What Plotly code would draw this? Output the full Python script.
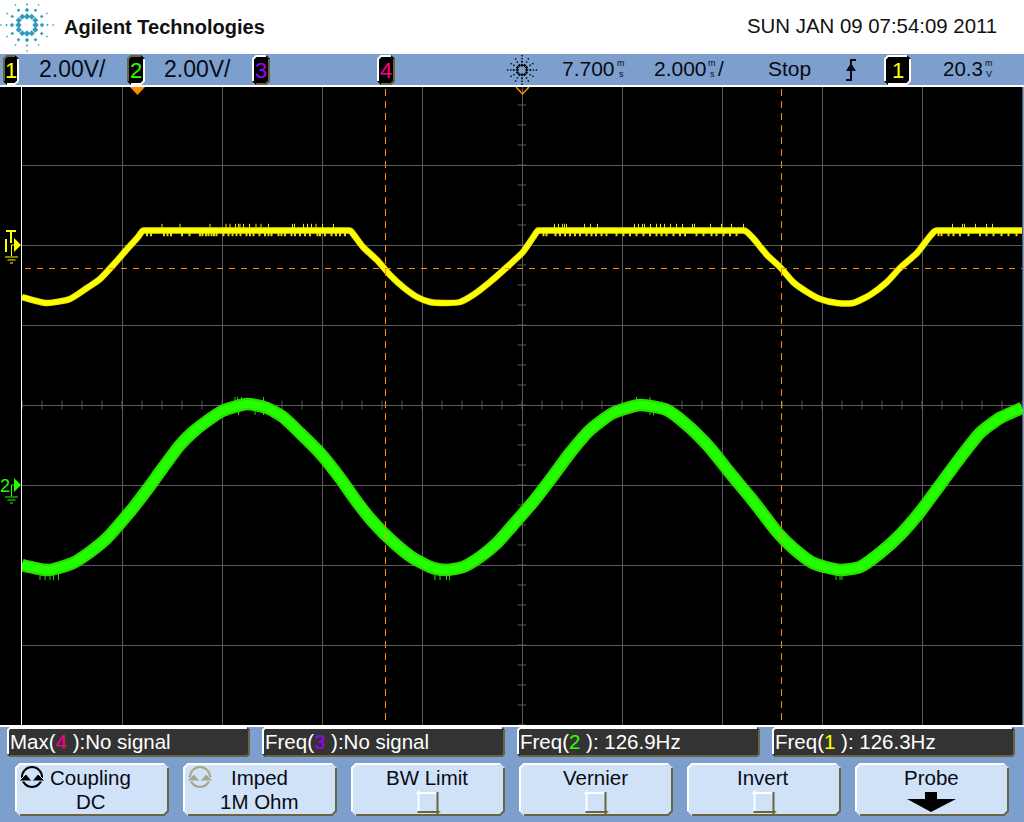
import math
import plotly.graph_objects as go

W, H = 1024, 822

# ---- Acquisition settings (from the status line)
ch1_offset_v = 4.0      # channel 1 ground sits 2 div above centre
ch2_offset_v = -2.0     # channel 2 ground sits 1 div below centre
t_center_ms = 7.7
t_per_div_ms = 2.0
v_per_div = 2.0
trigger_display_v = 3.4125
cursor_ms = [4.97, 12.89]

# ---- Channel 1 (yellow)
ch1_t = [-2.30, -1.80, -1.34, -1.00, -0.74, -0.44, -0.18, 0.02, 0.10, 0.14, 0.30, 4.10, 4.24, 4.28, 4.52, 4.80, 5.06,
         5.32, 5.60, 5.86, 6.16, 6.46, 6.72, 7.06, 7.40, 7.72, 7.98, 8.02, 8.06, 8.20, 12.00, 12.14, 12.18, 12.32, 12.60,
         12.86, 13.12, 13.40, 13.66, 14.00, 14.32, 14.66, 15.00, 15.26, 15.60, 15.80, 15.94, 15.98, 16.10, 17.70]
ch1_v = [-1.30, -1.45, -1.35, -1.075, -0.85, -0.45, -0.075, 0.20, 0.34, 0.3625, 0.3625, 0.3625, 0.3625, 0.34, -0.05, -0.375, -0.75,
         -1.05, -1.30, -1.425, -1.45, -1.425, -1.25, -0.925, -0.55, -0.175, 0.30, 0.3625, 0.3625, 0.3625, 0.3625, 0.3625, 0.34, 0.175, -0.25,
         -0.55, -0.925, -1.175, -1.35, -1.45, -1.45, -1.25, -0.925, -0.575, -0.20, 0.125, 0.33, 0.3625, 0.3625, 0.3625]
ch1_spike_up_t = [0.50, 0.86, 1.46, 1.78, 1.86, 1.97, 2.03, 2.06, 2.13, 2.25, 2.38, 2.48, 2.63, 3.11, 3.15,
                  3.33, 3.41, 3.49, 3.58, 3.71, 3.93, 8.35, 8.43, 8.51, 8.55, 8.59, 8.95, 9.07, 9.21,
                  9.95, 10.03, 10.11, 10.15, 10.27, 10.39, 10.47, 10.55, 10.67, 10.79, 10.91, 11.11,
                  11.15, 11.47, 11.69, 11.89, 12.13, 16.31, 16.51, 16.55, 16.77, 16.99, 17.11]
ch1_spike_down_t = [0.20, 0.28, 0.54, 0.61, 0.68, 0.90, 1.05, 1.26, 1.31, 1.38, 1.43, 1.49, 1.54, 1.59, 1.73,
                    1.83, 1.91, 1.99, 2.07, 2.19, 2.26, 2.33, 2.45, 2.56, 2.63, 2.69, 2.83, 2.89, 2.96,
                    3.09, 3.16, 3.26, 3.36, 3.46, 3.61, 3.66, 3.76, 3.89, 3.98, 4.06, 4.16, 8.13, 8.19,
                    8.37, 8.46, 8.56, 8.66, 8.76, 8.86, 8.99, 9.09, 9.18, 9.29, 9.39, 9.59, 9.73, 9.86,
                    9.99, 10.13, 10.26, 10.39, 10.49, 10.59, 10.73, 10.86, 10.96, 11.19, 11.33, 11.49,
                    11.59, 11.73, 11.86, 11.99, 16.03, 16.09, 16.23, 16.33, 16.46, 16.63, 16.86, 16.99,
                    17.13, 17.29, 17.43, 17.59]
ch1_spike_top_v = 0.53
ch1_spike_bottom_v = 0.22

# ---- Channel 2 (green)
ch2_t = [-2.30, -1.78, -1.28, -0.94, -0.60, -0.28, 0.00, 0.26, 0.46, 0.86, 1.12, 1.40, 1.72, 2.20, 2.60,
         2.92, 3.26, 3.66, 4.06, 4.40, 4.72, 5.12, 5.52, 5.92, 6.20, 6.52, 6.86, 7.20, 7.52, 7.92, 8.26,
         8.66, 9.06, 9.52, 10.06, 10.60, 11.00, 11.46, 11.86, 12.26, 12.46, 12.80, 13.12, 13.52, 14.06,
         14.46, 14.86, 15.26, 15.66, 16.06, 16.46, 16.86, 17.26, 17.70]
ch2_v = [-2.00, -2.125, -1.95, -1.675, -1.325, -0.875, -0.45, -0.02, 0.33, 1.00, 1.325, 1.60, 1.86, 2.025,
         1.925, 1.70, 1.30, 0.80, 0.175, -0.425, -0.925, -1.425, -1.825, -2.075, -2.125, -2.05, -1.80,
         -1.45, -1.00, -0.425, 0.125, 0.80, 1.375, 1.80, 2.00, 1.875, 1.50, 0.925, 0.30, -0.30, -0.62,
         -1.175, -1.575, -1.95, -2.125, -2.05, -1.70, -1.25, -0.675, 0.00, 0.675, 1.30, 1.675, 1.925]
ch2_peak_spike_t = [1.96, 2.01, 2.09, 2.53, 9.99, 10.26]
ch2_peak_under_t = [2.03, 2.36, 2.53, 10.26, 10.33]
ch2_trough_spike_t = [-1.94, -1.84, -1.74, -1.67, -1.57, 5.96, 6.06, 6.19, 6.25, 13.98, 14.06, 14.10]

# ---- Screen texts
volts_label = "2.00V/"
delay_label = "7.700"
timebase_label = "2.000"
mode_label = "Stop"
trigger_level_label = "20.3"
clock_label = "SUN JAN 09 07:54:09 2011"
brand_label = "Agilent Technologies"
channel_names = ["1", "2", "3", "4"]
softkey_labels = [("Coupling", "DC"), ("Imped", "1M Ohm"), ("BW Limit", None),
                  ("Vernier", None), ("Invert", None), ("Probe", None)]

# ---- Palette
BLUE = "#7c9fcd"
KEY = "#cfe2f8"
OLIVE = "#6b6440"
GRID = "#5a5a5a"
YEL = "#ffff00"
GRN = "#24ff00"
ORG = "#ff8c00"
MAG = "#ff0080"
PUR = "#a000ff"
INK = "#0a0a14"
FONT = "Liberation Sans"

px = lambda x: x / W
py = lambda y: 1 - y / H
shapes, notes = [], []


def rect(x0, y0, x1, y1, fill, layer="below"):
    shapes.append(dict(type="rect", xref="paper", yref="paper", x0=px(x0), x1=px(x1), y0=py(y0), y1=py(y1),
                       fillcolor=fill, line=dict(width=0), layer=layer))


def poly(pts, color=None, width=1, fill=None, close=False, layer="above"):
    d = "M" + " L".join(f"{px(a):.5f},{py(b):.5f}" for a, b in pts) + (" Z" if close else "")
    shapes.append(dict(type="path", xref="paper", yref="paper", path=d, fillcolor=fill,
                       line=dict(width=width if color else 0, color=color or "rgba(0,0,0,0)"), layer=layer))


def text(x, y, s, size=22, color=INK, anchor="center"):
    notes.append(dict(xref="paper", yref="paper", x=px(x), y=py(y), text=s, showarrow=False,
                      xanchor=anchor, yanchor="middle", borderpad=0, borderwidth=0,
                      font=dict(size=size, color=color, family=FONT)))


def bevel(x0, y0, x1, y1, fill, tl="#ffffff", br=OLIVE, c=3, w=2):
    poly([(x0 + c, y0), (x1 - c, y0), (x1, y0 + c), (x1, y1 - c), (x1 - c, y1), (x0 + c, y1), (x0, y1 - c), (x0, y0 + c)],
         fill=fill, close=True)
    poly([(x0 + 1, y1 - c), (x0 + 1, y0 + c), (x0 + c, y0 + 1), (x1 - c, y0 + 1)], color=tl, width=w)
    poly([(x1 - 1, y0 + c), (x1 - 1, y1 - c), (x1 - c, y1 - 1), (x0 + c, y1 - 1)], color=br, width=w)


def spark(cx, cy, k, color):
    for i in range(12):
        a = math.radians(i * 30)
        rings = ((8.5, 3.2), (15, 2.2), (20.5, 1.2), (26, 1.0)) if i % 3 == 0 else ((9.5, 3.0), (17, 1.8), (23, 1.0))
        for r, s in rings:
            x, y = cx + k * r * math.cos(a), cy + k * r * math.sin(a)
            q = max(k * s, 1.0)
            poly([(x, y - q), (x + q, y), (x, y + q), (x - q, y)], fill=color, close=True)


def stacked(x, y, top, bottom):
    text(x, y - 6, top, 9, INK)
    text(x, y + 5, bottom, 9, INK)


# ---- Chrome
rect(0, 54, W, 85, BLUE)
rect(0, 725, W, H, BLUE)
rect(0, 85, 22, 725, "#000000")
rect(21, 86, 22, 725, "#ffffff", layer="above")
rect(0, 85, W, 87, "#ffffff", layer="above")
rect(0, 725, W, 727, "#ffffff", layer="above")
rect(1023, 87, W, 725, BLUE, layer="above")

spark(27, 25, 1.0, "#2d9cbc")
text(64, 27, f"<b>{brand_label}</b>", 20, "#111111", "left")
text(997, 26, clock_label, 20.4, "#111111", "right")

# status-line badges
for (x0, x1), name, col, tl, br in [((3, 19), "1", YEL, OLIVE, "#ffffff"), ((127, 145), "2", "#30ff00", OLIVE, "#ffffff"),
                                    ((252, 270), "3", PUR, "#ffffff", OLIVE), ((377, 395), "4", MAG, "#ffffff", OLIVE)]:
    bevel(x0, 55, x1, 85, "#000000", tl, br, c=4, w=2)
    text((x0 + x1) / 2, 70, name, 22, col)
bevel(884, 55, 911, 85, "#000000", "#ffffff", "#ffffff", c=4, w=2)
text(897.5, 70, "1", 22, YEL)

text(39, 69, volts_label, 23, INK, "left")
text(164, 69, volts_label, 23, INK, "left")
spark(522, 70, 0.55, "#000000")
text(562, 69, delay_label, 21, INK, "left")
stacked(621, 69, "m", "s")
text(654, 69, timebase_label, 21, INK, "left")
stacked(712, 69, "m", "s")
text(718, 69, "/", 21, INK, "left")
text(768, 69, mode_label, 21, INK, "left")
poly([(846, 80), (851, 80), (851, 60), (856, 60)], color=INK, width=2)
poly([(851, 63), (856, 71), (846, 71)], fill=INK, close=True)
text(943, 69, trigger_level_label, 20.5, INK, "left")
stacked(989, 69, "m", "V")

# measurement boxes
for x0, x1, pre, num, col, post in [(7, 250, "Max(", "4", MAG, " ):No signal"), (262, 505, "Freq(", "3", PUR, " ):No signal"),
                                    (517, 760, "Freq(", "2", "#30ff00", " ): 126.9Hz"), (772, 1015, "Freq(", "1", YEL, " ): 126.3Hz")]:
    bevel(x0, 727, x1, 757, "#333333", "#ffffff", OLIVE, c=3, w=2)
    text(x0 + 3, 741, f'{pre}<span style="color:{col}">{num}</span>{post}', 20.5, "#ffffff", "left")

# soft keys
keys = [(15, 169), (183, 337), (351, 505), (519, 673), (687, 841), (855, 1009)]
for (x0, x1), (a, b) in zip(keys, softkey_labels):
    bevel(x0, 763, x1, 816, KEY, "#ffffff", OLIVE, c=5, w=2)
    cx = (x0 + x1) / 2
    if a == "Coupling":
        text(90, 777, a, 20.5, INK)
    else:
        text(cx - 1, 777, a, 20.5, INK)
    if b:
        text(cx - 1 if a != "Coupling" else 91, 801, b, 20.5, INK)
    elif a != "Probe":
        bevel(cx - 10.5, 792, cx + 10.5, 813, KEY, "#ffffff", OLIVE, c=0, w=2)

# rotary icons
for cx, col in [(32, "#000000"), (200, "#a9a78a")]:
    shapes.append(dict(type="circle", xref="paper", yref="paper", x0=px(cx - 10), x1=px(cx + 10), y0=py(767), y1=py(787),
                       line=dict(color=col, width=2), layer="above"))
    poly([(cx - 13, 781), (cx - 6, 774), (cx, 781)], fill=col, color=KEY, width=1, close=True)
    poly([(cx, 781), (cx + 6, 774), (cx + 13, 781)], fill=col, color=KEY, width=1, close=True)
# probe arrow
poly([(925, 792), (937, 792), (937, 799), (956, 799), (931, 812), (907, 799), (925, 799)], fill="#000000", close=True)

# top markers
poly([(130, 87), (145, 87), (137.5, 95)], fill=ORG, close=True)
poly([(516, 87), (522.5, 94), (529, 87)], color=ORG, width=1.5)

# channel ground markers
for (gy, col) in [(245, YEL), (485, GRN)]:
    poly([(14, gy - 7), (21, gy), (14, gy + 7)], fill=col, close=True)
    poly([(14, gy), (11.5, gy), (11.5, gy + 11)], color=col, width=1)
    for dy, half in ((12, 6.5), (15, 4), (18, 1.5)):
        poly([(11.5 - half, gy + dy), (11.5 + half, gy + dy)], color=col, width=1)
rect(5, 239, 7, 252, YEL, layer="above")
rect(6, 230, 16, 232, YEL, layer="above")
rect(10, 230, 12, 243, YEL, layer="above")
text(5, 486, "2", 18, GRN)

# ---- Traces
fig = go.Figure()
ax = dict(xaxis="x", yaxis="y", hoverinfo="skip", showlegend=False)


def shift(vals, off):
    return [v + off for v in vals]


def stems(ts, lo, hi):
    xs, ys = [], []
    for t in ts:
        xs += [t, t, None]
        ys += [lo, hi, None]
    return xs, ys


# centre-line graticule ticks
fig.add_trace(go.Scatter(x=[t_center_ms + 0.4 * k for k in range(-25, 26)], y=[0] * 51, mode="markers",
                         marker=dict(symbol="line-ns", size=6, line=dict(color=GRID, width=1)), **ax))
fig.add_trace(go.Scatter(x=[t_center_ms] * 33, y=[0.5 * k for k in range(-16, 17)], mode="markers",
                         marker=dict(symbol="line-ew", size=6, line=dict(color=GRID, width=1)), **ax))

# channel 1
x, y = stems(ch1_spike_up_t, ch1_offset_v + 0.3, ch1_offset_v + ch1_spike_top_v)
fig.add_trace(go.Scatter(x=x, y=y, mode="lines", line=dict(color="#e8e800", width=1), **ax))
x, y = stems(ch1_spike_down_t, ch1_offset_v + ch1_spike_bottom_v, ch1_offset_v + 0.3)
fig.add_trace(go.Scatter(x=x, y=y, mode="lines", line=dict(color="#e0e000", width=2), **ax))
spl = dict(shape="spline", smoothing=0.6)
fig.add_trace(go.Scatter(x=ch1_t, y=shift(ch1_v, ch1_offset_v), mode="lines",
                         line=dict(color="#e6e600", width=6.5, **spl), **ax))
fig.add_trace(go.Scatter(x=ch1_t, y=shift(ch1_v, ch1_offset_v), mode="lines",
                         line=dict(color=YEL, width=4.5, **spl), **ax))

# channel 2
for ts, lo, hi in ((ch2_peak_spike_t, 2.0, 2.2), (ch2_peak_under_t, 1.75, 2.0), (ch2_trough_spike_t, -2.375, -2.1)):
    x, y = stems(ts, ch2_offset_v + lo, ch2_offset_v + hi)
    fig.add_trace(go.Scatter(x=x, y=y, mode="lines", line=dict(color="#20d800", width=1), **ax))
fig.add_trace(go.Scatter(x=ch2_t, y=shift(ch2_v, ch2_offset_v), mode="lines",
                         line=dict(color="#28e000", width=12.5, **spl), **ax))
fig.add_trace(go.Scatter(x=ch2_t, y=shift(ch2_v, ch2_offset_v), mode="lines",
                         line=dict(color=GRN, width=8, **spl), **ax))

# trigger level and cursors
fig.add_trace(go.Scatter(x=[-2.24, 17.7], y=[trigger_display_v] * 2, mode="lines",
                         line=dict(color=ORG, width=1, dash="6px,6px"), **ax))
for c in cursor_ms:
    fig.add_trace(go.Scatter(x=[c, c], y=[7.9, -7.9], mode="lines", line=dict(color=ORG, width=1, dash="7px,5px"), **ax))

half_x = (22 - 522) / 100 * t_per_div_ms
fig.update_layout(
    width=W, height=H, margin=dict(l=0, r=0, t=0, b=0, pad=0),
    paper_bgcolor="#ffffff", plot_bgcolor="#000000", showlegend=False, hovermode=False,
    shapes=shapes, annotations=notes,
    xaxis=dict(domain=[22 / W, 1], range=[t_center_ms + half_x, t_center_ms + (W - 522) / 100 * t_per_div_ms],
               tick0=t_center_ms, dtick=t_per_div_ms, showgrid=True, gridcolor=GRID, gridwidth=1,
               zeroline=False, showticklabels=False, ticks="", showline=False, fixedrange=True),
    yaxis=dict(domain=[(H - 725) / H, (H - 85) / H], range=[-4 * v_per_div, 4 * v_per_div],
               tick0=0, dtick=v_per_div, showgrid=True, gridcolor=GRID, gridwidth=1,
               zeroline=False, showticklabels=False, ticks="", showline=False, fixedrange=True),
)
fig.write_html("out.html", config=dict(displayModeBar=False),
               post_script="document.body.style.margin='0';document.body.style.overflow='hidden';")
